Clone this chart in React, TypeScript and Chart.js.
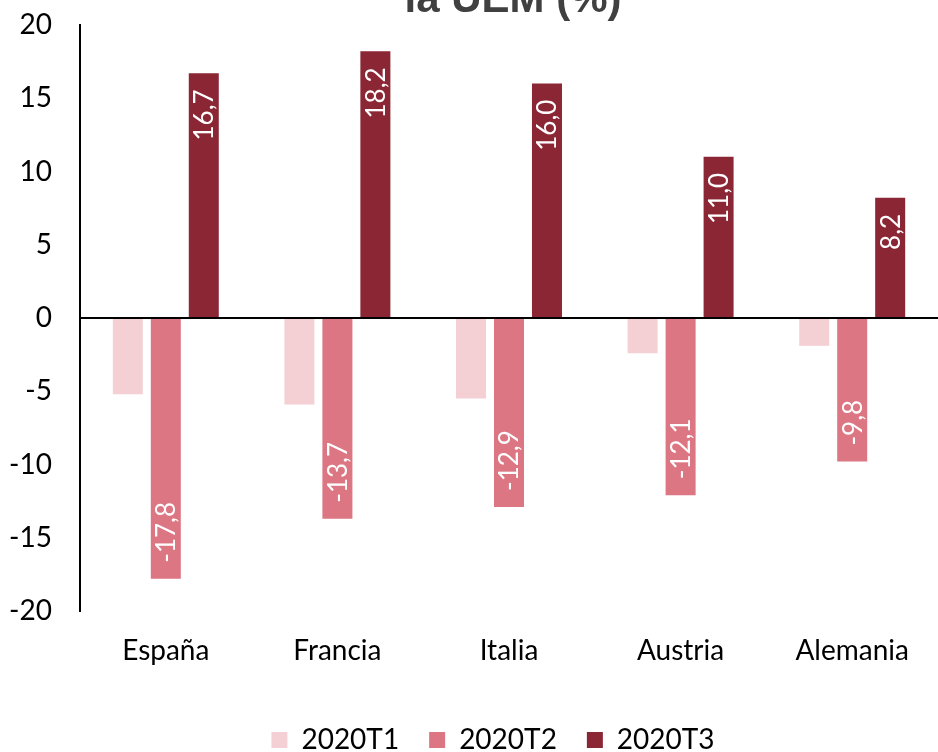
import React, { useEffect, useRef } from "react";
import { Chart, registerables } from "chart.js";

Chart.register(...registerables);

const categories = ["España", "Francia", "Italia", "Austria", "Alemania"];
const seriesNames = ["2020T1", "2020T2", "2020T3"];
const valuesT1 = [-5.2, -5.9, -5.5, -2.4, -1.9];
const valuesT2 = [-17.8, -13.7, -12.9, -12.1, -9.8];
const valuesT3 = [16.7, 18.2, 16.0, 11.0, 8.2];
const seriesColors = ["#F4D0D5", "#DC7683", "#8B2635"];
const titleText = "la UEM (%)";
const labelledSeries = [1, 2];

const FONT = "Lato, 'Open Sans', sans-serif";

const titlePlugin = {
  id: "cutTitle",
  afterDraw(chart: any) {
    const ctx = chart.ctx;
    ctx.save();
    ctx.font = `bold 42px 'Liberation Sans', Arial, sans-serif`;
    ctx.fillStyle = "#404040";
    ctx.textAlign = "center";
    ctx.textBaseline = "alphabetic";
    ctx.fillText(titleText, 513, 12);
    ctx.restore();
  },
};

const legendShiftPlugin = {
  id: "legendShift",
  afterLayout(chart: any) {
    if (chart.legend) {
      chart.legend.left += 24;
      chart.legend.right += 24;
    }
  },
};

const barLabelPlugin = {
  id: "barLabels",
  afterDatasetsDraw(chart: any) {
    const ctx = chart.ctx;
    ctx.save();
    ctx.font = `26px ${FONT}`;
    ctx.fillStyle = "#FFFFFF";
    ctx.textBaseline = "middle";
    labelledSeries.forEach((di) => {
      const meta = chart.getDatasetMeta(di);
      const data = chart.data.datasets[di].data as number[];
      meta.data.forEach((el: any, i: number) => {
        const v = data[i];
        const txt = v.toFixed(1).replace(".", ",");
        ctx.save();
        if (v >= 0) {
          ctx.translate(el.x, el.y + 16);
          ctx.rotate(-Math.PI / 2);
          ctx.textAlign = "right";
        } else {
          ctx.translate(el.x, el.y - 16);
          ctx.rotate(-Math.PI / 2);
          ctx.textAlign = "left";
        }
        ctx.fillText(txt, 0, 1);
        ctx.restore();
      });
    });
    ctx.restore();
  },
};

export default function App() {
  const ref = useRef<HTMLCanvasElement | null>(null);

  useEffect(() => {
    if (!ref.current) return;
    const chart = new Chart(ref.current, {
      type: "bar",
      data: {
        labels: categories,
        datasets: [valuesT1, valuesT2, valuesT3].map((vals, i) => ({
          label: seriesNames[i],
          data: vals,
          backgroundColor: seriesColors[i],
          borderWidth: 0,
          categoryPercentage: 0.664,
          barPercentage: 0.79,
        })),
      },
      options: {
        responsive: false,
        animation: false,
        devicePixelRatio: 1,
        layout: { padding: { top: 25, left: 0, right: 0, bottom: 0 } },
        plugins: {
          title: { display: false },
          tooltip: { enabled: false },
          legend: {
            display: true,
            position: "bottom",
            labels: {
              boxWidth: 16,
              boxHeight: 16,
              padding: 30,
              color: "#000",
              font: { family: FONT, size: 28 },
            },
          },
        },
        scales: {
          x: {
            grid: { display: false },
            border: { display: false },
            ticks: {
              color: "#000",
              padding: 15,
              font: { family: FONT, size: 28 },
              maxRotation: 0,
            },
            afterFit(scale: any) {
              scale.height = 85;
            },
          },
          y: {
            min: -20,
            max: 20,
            ticks: {
              stepSize: 5,
              color: "#000",
              padding: 28,
              font: { family: FONT, size: 28 },
            },
            grid: {
              drawTicks: false,
              color: (c: any) => (c.tick && c.tick.value === 0 ? "#000" : "rgba(0,0,0,0)"),
              lineWidth: 2,
            },
            border: { display: true, color: "#000", width: 2 },
            afterFit(scale: any) {
              scale.width = 80;
              scale.paddingTop = 0;
              scale.paddingBottom = 0;
            },
          },
        },
      },
      plugins: [titlePlugin, barLabelPlugin, legendShiftPlugin],
    });
    return () => chart.destroy();
  }, []);

  return (
    <div
      style={{
        position: "fixed",
        top: 0,
        left: 0,
        width: 938,
        height: 752,
        overflow: "hidden",
        background: "#fff",
      }}
    >
      <canvas ref={ref} width={938} height={764} style={{ display: "block", width: 938, height: 764 }} />
    </div>
  );
}
